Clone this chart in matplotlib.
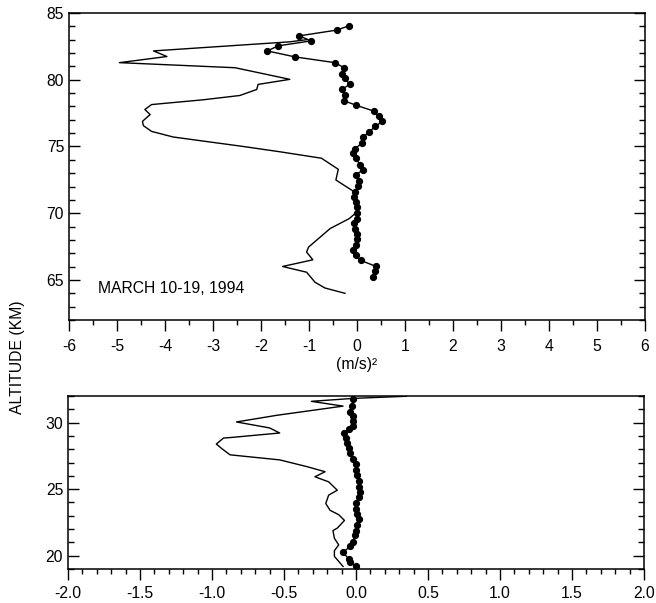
import numpy as np
import matplotlib
matplotlib.use("Agg")
import matplotlib.pyplot as plt
from matplotlib.ticker import MultipleLocator, FormatStrFormatter

plt.rcParams['font.family'] = ['Liberation Sans', 'DejaVu Sans']
plt.rcParams['axes.unicode_minus'] = False

# --- Mesosphere (top panel), dotted series
meso_dot_v = [-0.17, -0.42, -1.20, -0.96, -1.64, -1.87, -1.29, -0.46, -0.27, -0.32,
              -0.25, -0.15, -0.32, -0.26, -0.28, -0.02, 0.36, 0.45, 0.53, 0.38,
              0.24, 0.12, 0.10, -0.04, -0.08, -0.02, 0.06, 0.12, -0.02, 0.05,
              0.03, -0.04, -0.06, -0.02, 0.01, 0.00, 0.00, -0.06, -0.04, 0.01,
              0.01, -0.02, -0.09, -0.02, 0.08, 0.40, 0.375, 0.34]
meso_dot_alt = [84.04, 83.72, 83.29, 82.91, 82.54, 82.16, 81.71, 81.28, 80.90, 80.45,
                80.10, 79.65, 79.27, 78.84, 78.44, 78.09, 77.64, 77.26, 76.88, 76.50,
                76.05, 75.68, 75.25, 74.83, 74.50, 74.12, 73.62, 73.24, 72.87, 72.44,
                72.06, 71.61, 71.23, 70.86, 70.48, 70.03, 69.60, 69.23, 68.85, 68.47,
                68.10, 67.65, 67.27, 66.84, 66.46, 66.01, 65.66, 65.20]

# --- Mesosphere (top panel), solid series
meso_line_v = [-1.05, -1.40, -4.24, -3.96, -4.95, -2.54, -1.40, -2.06, -2.09, -2.44,
               -3.20, -4.28, -4.42, -4.31, -4.47, -4.45, -4.28, -3.83, -2.37, -1.60,
               -0.74, -0.39, -0.44, -0.06, -0.02, 0.00, -0.16, -0.56, -1.01, -1.05,
               -0.92, -1.55, -1.05, -0.875, -0.67, -0.25]
meso_line_alt = [83.00, 82.84, 82.16, 81.74, 81.28, 80.90, 80.03, 79.65, 79.27, 78.82,
                 78.50, 78.14, 77.77, 77.39, 76.88, 76.56, 76.13, 75.71, 75.00, 74.60,
                 74.12, 73.29, 72.49, 71.61, 71.11, 70.10, 69.60, 68.85, 67.46, 67.09,
                 66.51, 66.01, 65.58, 64.83, 64.40, 64.00]

# --- Stratosphere (bottom panel), dotted series
strat_dot_v = [-0.02, -0.03, -0.04, -0.02, -0.02, -0.02, -0.05, -0.08, -0.07, -0.06,
               -0.05, -0.04, -0.02, 0.00, 0.00, 0.01, 0.02, 0.02, 0.03, 0.02,
               0.00, 0.00, 0.01, 0.02, 0.01, 0.00, -0.01, -0.02, -0.04, -0.09,
               -0.05, -0.04, 0.00]
strat_dot_alt = [31.74, 31.24, 30.81, 30.48, 30.10, 29.72, 29.55, 29.22, 28.84, 28.46,
                 28.08, 27.70, 27.27, 26.87, 26.44, 26.06, 25.60, 25.17, 24.80, 24.42,
                 23.99, 23.54, 23.16, 22.73, 22.33, 21.89, 21.52, 21.06, 20.70, 20.25,
                 19.75, 19.50, 19.19]

# --- Stratosphere (bottom panel), solid series
strat_line_v = [0.35, -0.02, -0.31, -0.09, -0.55, -0.83, -0.60, -0.53, -0.86, -0.92,
                -0.97, -0.93, -0.875, -0.53, -0.34, -0.215, -0.285, -0.19, -0.13, -0.19,
                -0.21, -0.18, -0.12, -0.08, -0.13, -0.16, -0.15, -0.12, -0.15, -0.15,
                -0.09]
strat_line_alt = [31.98, 31.82, 31.60, 31.24, 30.55, 30.05, 29.60, 29.22, 28.89, 28.84,
                  28.39, 28.03, 27.58, 27.20, 26.69, 26.31, 25.93, 25.55, 24.92, 24.55,
                  23.92, 23.41, 23.08, 22.65, 22.07, 21.89, 21.31, 20.81, 20.38, 19.95,
                  19.19]

fs = 11.3

fig = plt.figure(figsize=(6.56, 6.03), dpi=100)

ax1 = fig.add_axes([69/656, 1 - 320/603, 576/656, 307/603])
ax2 = fig.add_axes([68/656, 1 - 569/603, 576/656, 173/603])

for ax in (ax1, ax2):
    for s in ax.spines.values():
        s.set_linewidth(1.1)
    ax.tick_params(axis='x', which='both', direction='out', top=False,
                   labelsize=fs, width=1.0)
    ax.tick_params(axis='x', which='major', length=8)
    ax.tick_params(axis='x', which='minor', length=3.5)
    ax.tick_params(axis='y', which='both', direction='in', left=True, right=True,
                   labelsize=fs, width=1.0, pad=3.5)
    ax.tick_params(axis='y', which='major', length=8)
    ax.tick_params(axis='y', which='minor', length=4.5)

# top panel
ax1.plot(meso_line_v, meso_line_alt, color='black', lw=1.0)
ax1.plot(meso_dot_v, meso_dot_alt, color='black', lw=1.0, marker='o', ms=4.2)
ax1.set_xlim(-6, 6)
ax1.set_ylim(62, 85)
ax1.xaxis.set_major_locator(MultipleLocator(1))
ax1.xaxis.set_minor_locator(MultipleLocator(0.5))
ax1.yaxis.set_minor_locator(MultipleLocator(1))
ax1.set_yticks([65, 70, 75, 80, 85])
ax1.tick_params(axis='x', which='major', pad=6)
ax1.text(0.05, 0.104, 'MARCH 10-19, 1994', transform=ax1.transAxes,
         fontsize=fs, va='center', ha='left')

# bottom panel
ax2.plot(strat_line_v, strat_line_alt, color='black', lw=1.0)
ax2.plot(strat_dot_v, strat_dot_alt, color='black', lw=1.0, marker='o', ms=4.2)
ax2.set_xlim(-2, 2)
ax2.set_ylim(19, 32)
ax2.xaxis.set_major_locator(MultipleLocator(0.5))
ax2.xaxis.set_minor_locator(MultipleLocator(0.1))
ax2.xaxis.set_major_formatter(FormatStrFormatter('%.1f'))
ax2.yaxis.set_major_locator(MultipleLocator(5))
ax2.yaxis.set_minor_locator(MultipleLocator(1))
ax2.tick_params(axis='x', which='major', pad=4)

fig.text(357/656, 1 - 365/603, '(m/s)²', ha='center', va='center', fontsize=fs)
fig.text(18/656, 1 - 357/603, 'ALTITUDE (KM)', rotation=90, ha='center',
         va='center', fontsize=fs)

fig.savefig('out.png', dpi=100)
